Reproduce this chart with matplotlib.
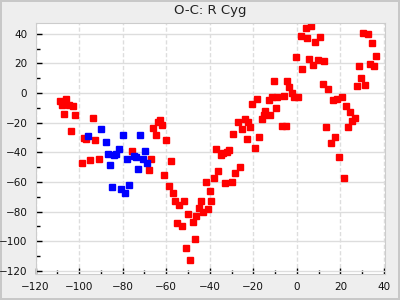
import matplotlib
matplotlib.use("Agg")
import matplotlib.pyplot as plt
from matplotlib.ticker import MultipleLocator

# red series (x, y)
red_x = [-108.9, -106.1, -108.0, -104.8, -102.9, -107.1, -102.0, -93.8, -103.9,
         -66.2, -63.9, -63.0, -64.9, -97.9, -97.0, -92.8, -75.9, -95.0, -91.0,
         -67.2, -98.8, -68.1, -62.1, -60.3, -58.0,
         -37.3, -35.0, -34.1, -32.3, -31.3, -29.1, -27.2, -25.0, -24.0, -22.2,
         -21.3, -23.1, -20.4, -18.1, -19.0, -17.2, -16.2, -15.3, -14.4, -12.1,
         -13.0, -11.2, -9.0, -10.3, -9.4, -7.0, -5.2,
         -61.2, -58.9, -57.1, -56.1, -54.3, -52.0, -55.2, -52.9, -50.2, -47.9,
         -47.0, -51.1, -49.3, -46.1, -45.1, -44.2, -43.3, -41.9, -41.0, -40.1,
         -39.2, -38.2, -36.0, -33.2, -30.0, -28.2, -26.3,
         4.0, 6.7, 1.7, 4.9, 8.5, 10.8, 30.6, 32.8, 34.7, 36.5, 28.7, 33.8,
         35.6, -0.2, 5.8, 7.6, 9.9, 12.7, 2.6, -4.3, -3.4, -2.0, -1.1, 0.7,
         -6.1, 11.8, 14.5, 16.8, 18.6, 20.9, 22.8, 24.6, 26.9, 25.5, 23.7,
         13.6, 17.7, 15.9, 19.5, 27.8, 31.5, 29.6, 21.8]
red_y = [-5.1, -3.8, -7.8, -7.8, -8.5, -13.9, -14.5, -16.6, -25.3,
         -23.3, -19.3, -17.9, -28.0, -30.0, -30.7, -32.0, -38.8, -45.3, -44.2,
         -44.8, -47.5, -51.6, -21.3, -31.4, -45.8,
         -37.4, -41.5, -40.1, -39.5, -38.1, -27.3, -19.7, -24.0, -17.2, -19.7,
         -22.6, -30.7, -7.1, -3.8, -36.8, -29.4, -17.2, -14.5, -11.9, -14.5,
         -4.4, -2.4, -2.4, 8.4, -9.8, -22.0, -22.0,
         -55.6, -62.4, -67.7, -73.1, -75.8, -72.5, -87.8, -90.0, -81.3, -87.3,
         -98.7, -104.8, -112.9, -83.2, -77.8, -72.5, -80.5, -60.3, -78.5, -66.4,
         -72.5, -57.6, -52.9, -61.0, -60.3, -53.6, -50.2,
         44.0, 45.1, 38.7, 37.3, 34.6, 38.0, 40.7, 40.0, 33.9, 25.2, 18.5, 19.8,
         18.5, 24.5, 23.2, 19.1, 22.5, 21.8, 16.4, 8.4, 4.3, 0.0, -2.4, -2.4,
         -1.7, 6.3, 3.0, -4.4, -3.8, -2.4, -8.5, -12.5, -16.6, -18.6, -22.6,
         -22.6, -29.4, -33.4, -42.8, 5.0, 5.7, 10.4, -57.0]

# blue series (x, y)
blue_x = [-96.0, -90.1, -87.8, -80.0, -72.2, -81.8, -86.9, -84.1, -83.2, -75.0,
          -74.0, -69.9, -78.2, -70.8, -86.0, -69.0, -73.1, -85.0, -80.9, -79.1,
          -77.2]
blue_y = [-28.7, -24.0, -32.7, -28.0, -28.0, -37.4, -40.8, -41.5, -40.8, -42.2,
          -42.8, -38.8, -44.8, -44.8, -48.2, -46.9, -50.9, -63.7, -64.4, -67.7,
          -61.7]

fig = plt.figure(figsize=(4, 3), dpi=100, facecolor="#eeeeee",
                 edgecolor="#c8c8c8", linewidth=1.5)
ax = fig.add_axes([0.089, 0.087, 0.874, 0.835])
ax.set_facecolor("white")

ax.plot(red_x, red_y, "s", color="#ff0000", markersize=4.3, linestyle="none")
ax.plot(blue_x, blue_y, "s", color="#0000ff", markersize=4.3, linestyle="none")

ax.set_xlim(-120, 40.6)
ax.set_ylim(-122, 47)
ax.xaxis.set_major_locator(MultipleLocator(20))
ax.xaxis.set_minor_locator(MultipleLocator(10))
ax.yaxis.set_major_locator(MultipleLocator(20))
ax.yaxis.set_minor_locator(MultipleLocator(10))

ax.grid(True, axis="y", which="major", color="#dddddd", linestyle="-", linewidth=1)
ax.grid(True, axis="x", which="major", color="#dddddd", linestyle=(0, (3, 1.6)), linewidth=1)
ax.set_axisbelow(True)

ax.tick_params(which="both", direction="in", colors="black", labelsize=7.5,
               width=1, labelcolor="#111111")
ax.tick_params(which="major", length=4, pad=6)
ax.tick_params(which="minor", length=3)
for s in ax.spines.values():
    s.set_color("#cccccc")

ax.set_title("O-C: R Cyg", fontsize=9.5, color="#222222", pad=7)

fig.savefig("out.png", dpi=100, facecolor=fig.get_facecolor(),
            edgecolor=fig.get_edgecolor())
